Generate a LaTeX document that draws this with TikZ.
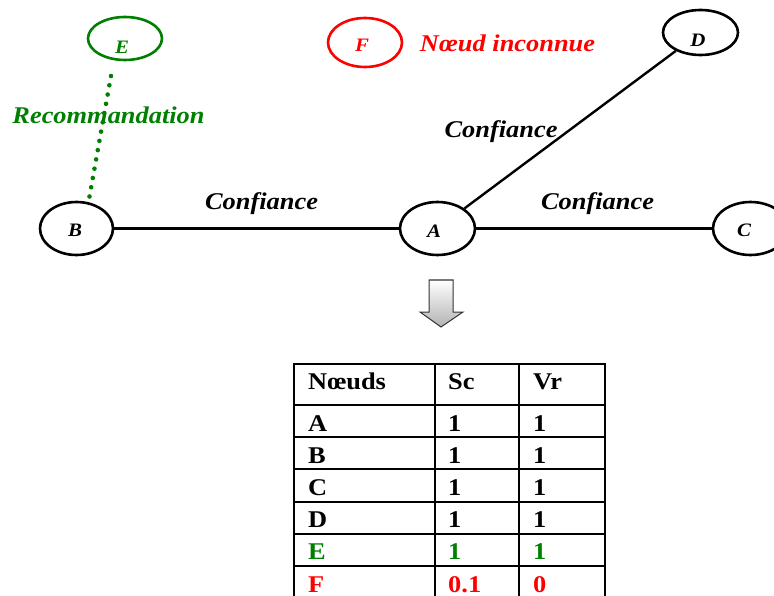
\documentclass[tikz,border=0pt]{standalone}
\usepackage{fontspec}
\setmainfont{Liberation Serif}[FakeStretch=1.1]
\usetikzlibrary{shapes.geometric,calc}
\definecolor{recgreen}{RGB}{0,128,0}
\definecolor{unkred}{RGB}{255,0,0}
\begin{document}
\begin{tikzpicture}[x=1pt,y=-1pt,
  peer/.style={ellipse,draw,line width=2.6pt,inner sep=0pt},
  peerlab/.style={font=\fontsize{19}{20}\selectfont\bfseries\itshape,inner sep=0pt},
  edgelab/.style={font=\fontsize{24}{28}\selectfont\bfseries\itshape,inner sep=0pt},
  link/.style={line width=2.4pt},
  cell/.style={font=\fontsize{24}{28}\selectfont\bfseries,inner sep=0pt,anchor=base west},
  grid/.style={line width=2.4pt}]
\useasboundingbox (0,0) rectangle (774,596);
\clip (0,0) rectangle (774,596);

% peers
\node[peer,draw=recgreen,minimum width=74pt,minimum height=43pt] (E) at (125,38.5) {};
\node[peer,draw=unkred,minimum width=74pt,minimum height=49pt] (F) at (365,42.5) {};
\node[peer,minimum width=75pt,minimum height=45pt] (D) at (700.5,32.5) {};
\node[peer,minimum width=73pt,minimum height=53pt] (B) at (76.5,228.5) {};
\node[peer,minimum width=75pt,minimum height=53pt] (A) at (437.5,228.5) {};
\node[peer,minimum width=75pt,minimum height=53pt] (C) at (750.5,228.5) {};

\node[peerlab,text=recgreen] (Et) at (122,47) {E};
\node[peerlab,text=unkred] (Ft) at (362,45) {F};
\node[peerlab] (Dt) at (698,40) {D};
\node[peerlab] (Bt) at (75,230) {B};
\node[peerlab] (At) at (434,231.5) {A};
\node[peerlab] (Ct) at (744,230.5) {C};

% trust links
\draw[link] (B) -- (A);
\draw[link] (A) -- (C);
\draw[link] (A) -- (D);
% recommendation link: a row of round dots from E down to B
\coordinate (e1) at (111,76);
\coordinate (b1) at (89.5,196.5);
\foreach \t in {0,...,13}
  \fill[recgreen] ($(e1)!\t/13!(b1)$) circle (2.3pt);

% labels
\node[edgelab] (l1) at (261.5,204) {Confiance};
\node[edgelab] (l2) at (501,132) {Confiance};
\node[edgelab] (l3) at (597.5,204) {Confiance};
\node[edgelab,text=recgreen] (rec) at (108.5,115) {Recommandation};
\node[edgelab,text=unkred] (unk) at (507.5,43) {Nœud inconnue};

% transition arrow
\path[shade,top color=white,bottom color=black!30,draw=black!80,line width=1pt]
  (429,280) -- (453,280) -- (453,312) -- (463,312) -- (441,327) -- (420,312) -- (429,312) -- cycle;

% result table
\foreach \yy in {364,405,437,469,502,534,566,598}
  \draw[grid] (293,\yy) -- (606,\yy);
\foreach \xx in {294,435,519,605}
  \draw[grid] (\xx,363) -- (\xx,600);

\node[cell] (h1) at (308,389) {Nœuds};
\node[cell] (h2) at (448,389) {Sc};
\node[cell] (h3) at (533,389) {Vr};

\node[cell] (rA) at (308,431) {A};   \node[cell] (sA) at (448,431) {1};   \node[cell] (vA) at (533,431) {1};
\node[cell] (rB) at (308,463) {B};   \node[cell] (sB) at (448,463) {1};   \node[cell] (vB) at (533,463) {1};
\node[cell] (rC) at (308,495) {C};   \node[cell] (sC) at (448,495) {1};   \node[cell] (vC) at (533,495) {1};
\node[cell] (rD) at (308,527) {D};   \node[cell] (sD) at (448,527) {1};   \node[cell] (vD) at (533,527) {1};
\node[cell,text=recgreen] (rE) at (308,559) {E};
\node[cell,text=recgreen] (sE) at (448,559) {1};
\node[cell,text=recgreen] (vE) at (533,559) {1};
\node[cell,text=unkred] (rF) at (308,592) {F};
\node[cell,text=unkred] (sF) at (448,592) {0.1};
\node[cell,text=unkred] (vF) at (533,592) {0};
\end{tikzpicture}
\end{document}
